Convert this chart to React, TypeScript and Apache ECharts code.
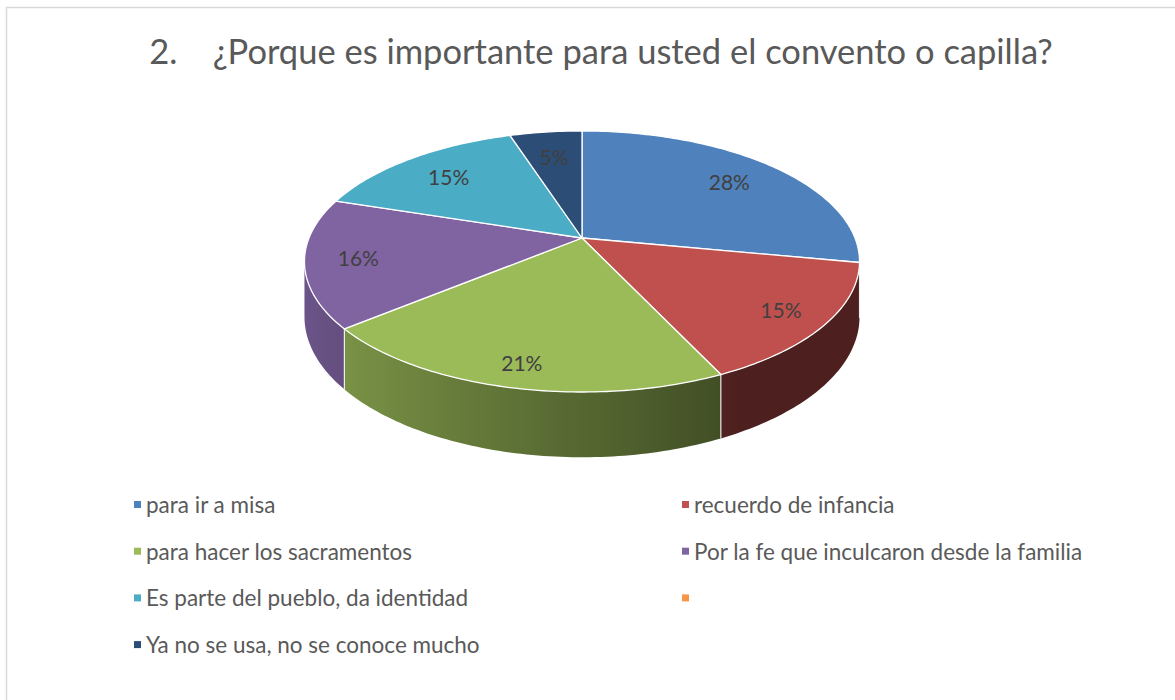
import React, { useEffect, useRef } from "react";
import * as echarts from "echarts";

const TITLE = "2.\u00A0\u00A0\u00A0\u00A0¿Porque es importante para usted el convento o capilla?";
const CATEGORIES = [
  "para ir a misa",
  "recuerdo de infancia",
  "para hacer los sacramentos",
  "Por la fe que inculcaron desde la familia",
  "Es parte del pueblo, da identidad",
  " ",
  "Ya no se usa, no se conoce mucho",
];
const VALUES = [28, 15, 21, 16, 15, 0, 5];
const COLORS = ["#4F81BD", "#C0504D", "#9BBB59", "#8064A2", "#4BACC6", "#F79646", "#2C4D75"];

const FONT = "Lato";

// 3D pie geometry (pixels)
const CX = 582;
const CY = 238;
const RX = 273;
const RY = 126.3;
const PERSP = 0.18;
const DEPTH = 53.5;
const VIS_L = (Math.acos(-PERSP) * 180) / Math.PI; // ~100.4
const VIS_R = 360 - VIS_L; // ~259.6

function proj(deg: number, f: number, down: number): [number, number] {
  const t = (deg * Math.PI) / 180;
  const s = Math.sin(t);
  const c = Math.cos(t);
  const d = 1 + PERSP * f * c;
  return [CX + (RX * f * s) / d, CY - (RY * f * c) / d + down / d];
}

function shadeColor(hex: string, k: number): string {
  const r = parseInt(hex.slice(1, 3), 16);
  const g = parseInt(hex.slice(3, 5), 16);
  const b = parseInt(hex.slice(5, 7), 16);
  const m = (v: number) => Math.max(0, Math.min(255, Math.round(v * k)));
  return `rgb(${m(r)},${m(g)},${m(b)})`;
}

function wallShade(deg: number): number {
  const t = (1 - Math.sin((deg * Math.PI) / 180)) / 2;
  const q = Math.max(0, Math.min(1, (t - 0.25) / 0.75));
  return 0.4 + 0.45 * q;
}

function renderSlice(params: any, api: any) {
  const idx = params.seriesIndex;
  const val = api.value(0);
  const children: any[] = [];
  if (!val) return { type: "group", children };
  const total = VALUES.reduce((a, b) => a + b, 0);
  let before = 0;
  for (let k = 0; k < idx; k++) before += VALUES[k];
  const a0 = (before / total) * 360;
  const a1 = ((before + val) / total) * 360;
  const color = COLORS[idx];

  // top face
  const pts: number[][] = [[CX, CY]];
  const n = Math.max(2, Math.ceil(a1 - a0));
  for (let j = 0; j <= n; j++) {
    const a = a0 + ((a1 - a0) * j) / n;
    pts.push(proj(a, 1, 0));
  }
  children.push({
    type: "polygon",
    shape: { points: pts },
    style: { fill: color, stroke: "#ffffff", lineWidth: 1.3, lineJoin: "round" },
    z2: 10,
    silent: true,
  });

  // front wall
  const ws = Math.max(a0, VIS_L);
  const we = Math.min(a1, VIS_R);
  if (we > ws) {
    const m = Math.max(2, Math.ceil(we - ws));
    const topPts: number[][] = [];
    const botPts: number[][] = [];
    const samples: { x: number; c: string }[] = [];
    for (let j = 0; j <= m; j++) {
      const a = ws + ((we - ws) * j) / m;
      topPts.push(proj(a, 1, 0));
      botPts.push(proj(a, 1, DEPTH));
      samples.push({ x: proj(a, 1, 0)[0], c: shadeColor(color, wallShade(a)) });
    }
    const allX = topPts.concat(botPts).map((p) => p[0]);
    const xmin = Math.min(...allX);
    const xmax = Math.max(...allX);
    const span = Math.max(1e-6, xmax - xmin);
    const stops = samples
      .map((s) => ({ offset: Math.max(0, Math.min(1, (s.x - xmin) / span)), color: s.c }))
      .sort((p, q) => p.offset - q.offset);
    children.push({
      type: "polygon",
      shape: { points: topPts.concat(botPts.reverse()) },
      style: {
        fill: { type: "linear", x: 0, y: 0, x2: 1, y2: 0, colorStops: stops },
      },
      z2: 1,
      silent: true,
    });
    if (a0 > VIS_L && a0 < VIS_R) {
      const p = proj(a0, 1, 0);
      const q = proj(a0, 1, DEPTH);
      children.push({
        type: "line",
        shape: { x1: p[0], y1: p[1], x2: q[0], y2: q[1] },
        style: { stroke: "rgba(255,255,255,0.85)", lineWidth: 1.2 },
        z2: 3,
        silent: true,
      });
    }
  }

  // label
  const mid = (a0 + a1) / 2;
  const f = 0.8 - 0.06 * Math.cos((mid * Math.PI) / 180);
  const lp = proj(mid, f, 0);
  children.push({
    type: "text",
    x: lp[0],
    y: lp[1],
    style: {
      text: Math.round((val / total) * 100) + "%",
      fill: "#404040",
      fontSize: 21,
      fontFamily: FONT,
      align: "center",
      verticalAlign: "middle",
    },
    z2: 20,
    silent: true,
  });
  return { type: "group", children };
}

const legendText = { fontSize: 22.5, color: "#595959", fontFamily: FONT, lineHeight: 23 };

export default function App() {
  const ref = useRef<HTMLDivElement>(null);
  useEffect(() => {
    document.body.style.margin = "0";
    const chart = echarts.init(ref.current!, null, { renderer: "svg" });
    const series = CATEGORIES.map((name, i) => ({
      type: "custom",
      name,
      coordinateSystem: "none",
      renderItem: renderSlice,
      itemStyle: { color: COLORS[i] },
      data: [[VALUES[i]]],
      silent: true,
    }));
    chart.setOption({
      animation: false,
      backgroundColor: "#ffffff",
      title: {
        text: TITLE,
        left: 596,
        top: 28,
        textAlign: "center",
        textStyle: { fontSize: 34.5, fontWeight: "normal", color: "#595959", fontFamily: FONT },
      },
      legend: [
        {
          data: CATEGORIES.filter((_, i) => i % 2 === 0),
          orient: "vertical",
          left: 129,
          top: 488,
          itemWidth: 7,
          itemHeight: 7,
          icon: "rect",
          itemGap: 23.7,
          selectedMode: false,
          textStyle: legendText,
        },
        {
          data: CATEGORIES.filter((_, i) => i % 2 === 1),
          orient: "vertical",
          left: 677,
          top: 488,
          itemWidth: 7,
          itemHeight: 7,
          icon: "rect",
          itemGap: 23.7,
          selectedMode: false,
          textStyle: legendText,
        },
      ],
      graphic: [
        {
          type: "rect",
          shape: { x: 6.5, y: 7.5, width: 1200, height: 720 },
          style: { fill: "none", stroke: "#d9d9d9", lineWidth: 1.5 },
          silent: true,
        },
      ],
      series,
    });
    return () => chart.dispose();
  }, []);
  return <div ref={ref} style={{ width: 1175, height: 700 }} />;
}
